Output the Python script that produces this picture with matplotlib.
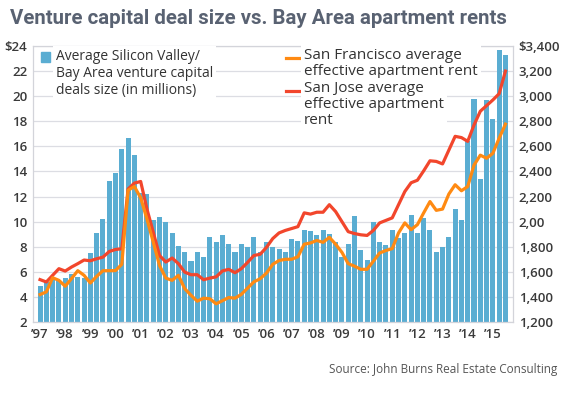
import matplotlib
matplotlib.use("Agg")
import matplotlib.pyplot as plt
from matplotlib.patches import Rectangle
import numpy as np

plt.rcParams['font.family'] = ['Open Sans', 'DejaVu Sans']

# quarterly data, 1997 Q1 - 2015 Q3
deal_size = [4.9, 5.2, 5.6, 5.3, 5.5, 5.8, 5.6, 5.5, 7.5, 9.1, 10.2, 13.2, 13.9,
             15.8, 16.7, 15.3, 12.3, 12.2, 10.1, 10.4, 9.95, 9.1, 8.07, 7.57, 6.83, 7.55,
             7.2, 8.8, 8.35, 8.9, 8.25, 7.55, 8.25, 8.0, 8.8, 7.55, 8.4, 8.0, 7.85, 7.6,
             8.6, 8.45, 9.3, 9.25, 8.95, 9.3, 9.0, 8.35, 7.15, 8.25, 10.45, 7.7, 6.95,
             10.0, 8.4, 8.1, 9.3, 8.7, 9.1, 10.5, 9.1, 10.3, 9.3, 7.55, 8.0, 8.8, 11.0,
             10.1, 16.4, 19.8, 13.4, 19.7, 18.2, 23.7, 23.3]

sf_rent = [1419, 1440, 1553, 1532, 1485, 1546, 1609, 1572, 1511, 1564,
           1609, 1609, 1610, 1660, 2250, 2280, 2190, 2020, 1837, 1650,
           1550, 1532, 1572, 1466, 1413, 1366, 1390, 1385, 1345, 1370,
           1395, 1390, 1420, 1470, 1520, 1545, 1590, 1660, 1690, 1700,
           1700, 1720, 1820, 1830, 1850, 1835, 1875, 1820, 1755, 1665,
           1645, 1620, 1620, 1685, 1750, 1770, 1785, 1910, 1990, 1936,
           1976, 2070, 2160, 2090, 2100, 2220, 2294, 2246, 2280, 2450,
           2530, 2505, 2545, 2665, 2777]

sj_rent = [1538, 1519, 1572, 1625, 1606, 1638, 1665, 1694, 1688, 1704,
           1717, 1762, 1778, 1784, 2260, 2307, 2320, 2100, 1916, 1730,
           1678, 1710, 1665, 1598, 1577, 1577, 1537, 1550, 1560, 1607,
           1620, 1593, 1625, 1675, 1730, 1740, 1795, 1865, 1910, 1930,
           1945, 1960, 2070, 2060, 2075, 2075, 2135, 2080, 2000, 1920,
           1905, 1895, 1890, 1930, 1990, 2010, 2030, 2135, 2240, 2310,
           2330, 2405, 2485, 2480, 2460, 2570, 2680, 2670, 2640, 2770,
           2880, 2925, 2970, 3020, 3200]

years = list(range(1997, 2016))
year_labels = ["\u2019%02d" % (y % 100) for y in years]
left_ticks = list(range(2, 25, 2))
left_labels = [str(v) for v in left_ticks[:-1]] + ["$24"]
right_ticks = list(range(1200, 3401, 200))
right_labels = ["1,200", "1,400", "1,600", "1,800", "2,00", "2,200", "2,400",
                "2,600", "2,800", "3,000", "3,200", "$3,400"]

bar_color = '#5aadd2'
sf_color = '#ff8a12'
sj_color = '#f2462c'
grid_color = '#dcdde3'
tick_color = '#3a3a3a'

x = 1997 + np.arange(len(deal_size)) * 0.25

fig = plt.figure(figsize=(5.69, 3.98), dpi=100)
ax = fig.add_axes([33/569, 76/398, 480/569, 276/398])

ax.bar(x, deal_size, width=0.2, color=bar_color, zorder=2)
ax.set_ylim(2, 24)
ax.set_xlim(1996.72, 2015.8)
ax.set_yticks(left_ticks)
ax.set_yticklabels(left_labels)
ax.set_xticks(years)
ax.set_xticklabels(year_labels)
ax.grid(axis='y', color=grid_color, lw=0.9, zorder=0)
ax.set_axisbelow(True)
ax.tick_params(length=0, labelsize=9.5, labelcolor=tick_color, pad=4)
for lab in ax.get_xticklabels() + ax.get_yticklabels():
    lab.set_fontweight('semibold')
for s in ax.spines.values():
    s.set_color('#d3d4da')
    s.set_linewidth(0.9)

ax2 = ax.twinx()
ax2.plot(x, sj_rent, color=sj_color, lw=2.3, solid_joinstyle='round')
ax2.plot(x, sf_rent, color=sf_color, lw=2.3, solid_joinstyle='round')
ax2.set_ylim(1200, 3400)
ax2.set_yticks(right_ticks)
ax2.set_yticklabels(right_labels)
ax2.tick_params(length=0, labelsize=9.5, labelcolor=tick_color, pad=4)
for lab in ax2.get_yticklabels():
    lab.set_fontweight('semibold')
for s in ax2.spines.values():
    s.set_visible(False)


# legend drawn by hand so the keys line up with the first text line
def fx(px):
    return (px - 33) / 480


def fy(py):
    return (322 - py) / 276


leg_left = dict(fontsize=10, color='#333333', va='top', ha='left',
                linespacing=1.2, transform=ax2.transAxes, zorder=5,
                bbox=dict(facecolor='white', edgecolor='none', pad=2))
leg_right = dict(leg_left, fontsize=11, linespacing=1.1)

ax2.add_patch(Rectangle((fx(41), fy(62)), 9/480, 10/276, color=bar_color,
                        transform=ax2.transAxes, clip_on=False, zorder=5))
ax2.text(fx(56), fy(49), "Average Silicon Valley/\nBay Area venture capital\ndeals size (in millions)",
         **leg_left)
ax2.plot([fx(286), fx(300)], [fy(58), fy(58)], color=sf_color, lw=2.3,
         transform=ax2.transAxes, clip_on=False, zorder=5)
ax2.text(fx(304), fy(48), "San Francisco average\neffective apartment rent",
         **leg_right)
ax2.plot([fx(286), fx(300)], [fy(91), fy(91)], color=sj_color, lw=2.3,
         transform=ax2.transAxes, clip_on=False, zorder=5)
ax2.text(fx(304), fy(81), "San Jose average\neffective apartment\nrent",
         **leg_right)

fig.text(10/569, 1 - 18/398, "Venture capital deal size vs. Bay Area apartment rents",
         family=['Roboto', 'DejaVu Sans'], fontweight='bold',
         fontsize=14.7, color='#596272', va='center', ha='left')
fig.text(557/569, 1 - 370/398, "Source: John Burns Real Estate Consulting",
         fontsize=8.5, color='#555555', va='center', ha='right')

fig.savefig('out.png', dpi=100, facecolor='white')
